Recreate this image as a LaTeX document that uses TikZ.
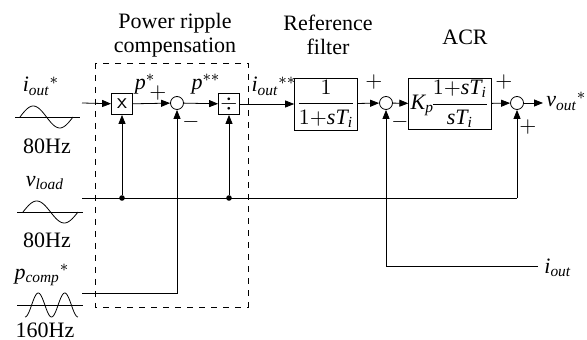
\documentclass[tikz,border=0pt]{standalone}
\usepackage{amsmath}
\usepackage{fontspec}
\setmainfont{Liberation Serif}
\usetikzlibrary{positioning,arrows.meta}

\begin{document}
\begin{tikzpicture}[
    x=0.5pt, y=-0.5pt,
    font=\fontsize{11}{12}\selectfont,
    blk/.style={draw, inner sep=1pt},
    opbox/.style={draw, minimum size=10.5pt, inner sep=0pt},
    sumj/.style={draw, circle, minimum size=6.5pt, inner sep=0pt},
    sig/.style={-{Triangle[length=4.5pt,width=3.5pt]}},
    lbl/.style={inner sep=0pt},
    dot/.style={circle, fill, inner sep=0pt, minimum size=2.8pt}
]
\useasboundingbox (0,0) rectangle (587,340);

% Titles
\node[lbl, align=center] (tPRC) at (175,35) {Power ripple\\compensation};
\node[lbl, align=center] (tRF) at (328,35) {Reference\\filter};
\node[lbl] (tACR) at (465,37) {ACR};

% Power ripple compensation
\draw[dashed] (95,63) rectangle (248,307);
\node[opbox] (mul) at (122,104) {\textsf{x}};
\node[sumj] (sumA) at (177,103) {};
\node[opbox] (div) at (229,104) {$\div$};

% Reference filter and ACR
\node[blk, minimum width=30pt, minimum height=26pt] (lpf) at (326,104)
    {$\dfrac{1}{1{+}\mathit{sT}_{\mathit{i}}}$};
\node[sumj] (sumB) at (386,103) {};
\node[blk, minimum width=38.5pt, minimum height=24.5pt] (acr) at (450,104)
    {$\mathit{K}_{\mathit{p}}\!\dfrac{1{+}\mathit{sT}_{\mathit{i}}}{\mathit{sT}_{\mathit{i}}}$};
\node[sumj] (sumC) at (517,103) {};

% Inputs
\coordinate (inI) at (82,103);
\coordinate (inV) at (82,198);
\coordinate (inP) at (82,293);
\node[lbl] (lI) at (41,86) {$\mathit{i}_{\mathit{out}}{}^{*}$};
\node[lbl] (lV) at (45,183) {$\mathit{v}_{\mathit{load}}$};
\node[lbl] (lP) at (42,275) {$\mathit{p}_{\mathit{comp}}{}^{*}$};
\node[lbl] (fI) at (47,146) {80Hz};
\node[lbl] (fV) at (47,240) {80Hz};
\node[lbl] (fP) at (45,330) {160Hz};

% Waveforms
\draw (15,117) -- (80,117);
\draw[domain=0:1, samples=40, variable=\t] plot ({20+53*\t}, {117-11*sin(360*\t)});
\draw (17,212) -- (83,212);
\draw[domain=0:1, samples=40, variable=\t] plot ({23+55*\t}, {212-11*sin(360*\t)});
\draw (17,305) -- (83,305);
\draw[domain=0:1, samples=60, variable=\t] plot ({25+53*\t}, {305+12*cos(720*\t)});

% Forward path
\draw[sig] (inI) -- (mul);
\draw[sig] (mul) -- (sumA);
\draw[sig] (sumA) -- (div);
\draw[sig] (div) -- (lpf);
\draw[sig] (lpf) -- (sumB);
\draw[sig] (sumB) -- (acr);
\draw[sig] (acr) -- (sumC);
\coordinate (out) at (543,103);
\draw[sig] (sumC) -- (out);
\node[lbl, anchor=west] (lOut) at (546,101) {$\mathit{v}_{\mathit{out}}{}^{*}$};

% v_load branch
\node[dot] (dA) at (122,198) {};
\node[dot] (dB) at (229,198) {};
\coordinate (cC) at (517,198);
\draw (inV) -- (cC);
\draw[sig] (dA) -- (mul);
\draw[sig] (dB) -- (div);
\draw[sig] (cC) -- (sumC);

% p_comp branch
\coordinate (cP) at (177,293);
\draw[sig] (inP) -- (cP) -- (sumA);

% i_out feedback
\coordinate (cF) at (386,266);
\coordinate (inF) at (538,266);
\node[lbl, anchor=west] (lF) at (544,268) {$\mathit{i}_{\mathit{out}}$};
\draw[sig] (inF) -- (cF) -- (sumB);

% Signal labels
\node[lbl] (lp1) at (145,84) {$\mathit{p}^{*}$};
\node[lbl] (lp2) at (206,84) {$\mathit{p}^{**}$};
\node[lbl] (li2) at (274,86) {$\mathit{i}_{\mathit{out}}{}^{**}$};

% Signs
\node[lbl] at (158,93) {$+$};
\node[lbl] at (191,122) {$-$};
\node[lbl] at (374,82) {$+$};
\node[lbl] at (400,122) {$-$};
\node[lbl] at (504,82) {$+$};
\node[lbl] at (528,127) {$+$};

\end{tikzpicture}
\end{document}
